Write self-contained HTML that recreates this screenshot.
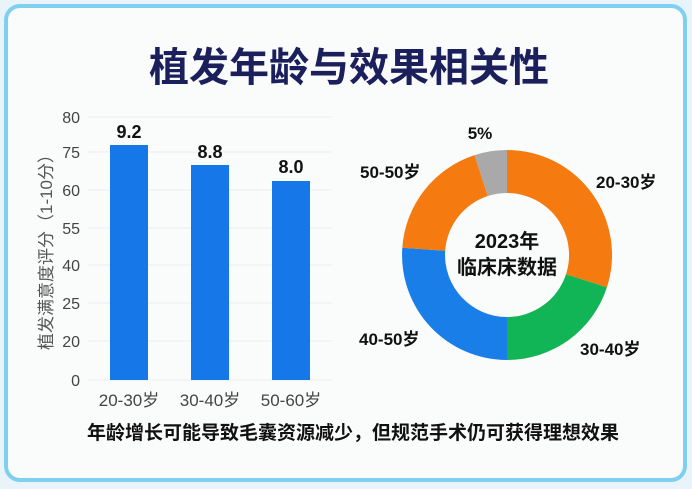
<!DOCTYPE html>
<html><head><meta charset="utf-8"><style>
html,body{margin:0;padding:0;width:692px;height:489px;overflow:hidden;background:#eef6fb;}
svg text{font-family:"Liberation Sans","Noto Sans CJK SC",sans-serif;}
</style></head><body>
<svg width="692" height="489" viewBox="0 0 692 489" xmlns="http://www.w3.org/2000/svg">
<rect x="0" y="0" width="692" height="489" fill="#e9f4fa"/>
<rect x="6" y="6" width="679" height="474" rx="14" fill="#fafbfb" stroke="#7fd0f0" stroke-width="4"/>
<text x="349" y="81" text-anchor="middle" font-size="40" font-weight="bold" fill="#1b1f5c">植发年龄与效果相关性</text>
<g stroke="#eceef0" stroke-width="1">
<line x1="88" y1="117" x2="332" y2="117"/><line x1="88" y1="152" x2="332" y2="152"/>
<line x1="88" y1="190" x2="332" y2="190"/><line x1="88" y1="228" x2="332" y2="228"/>
<line x1="88" y1="265" x2="332" y2="265"/><line x1="88" y1="303" x2="332" y2="303"/>
<line x1="88" y1="341" x2="332" y2="341"/><line x1="88" y1="380" x2="332" y2="380"/>
</g>
<g font-size="16" fill="#444" text-anchor="end">
<text x="80" y="123">80</text><text x="80" y="158">75</text><text x="80" y="196">60</text>
<text x="80" y="234">55</text><text x="80" y="271">40</text><text x="80" y="309">25</text>
<text x="80" y="347">20</text><text x="80" y="386">0</text>
</g>
<text transform="translate(52,248) rotate(-90)" text-anchor="middle" font-size="17" fill="#555">植发满意度评分（1-10分）</text>
<rect x="110" y="145" width="38" height="235" fill="#1677e8"/>
<rect x="191" y="165" width="38" height="215" fill="#1677e8"/>
<rect x="272" y="181" width="38" height="199" fill="#1677e8"/>
<g font-size="18" font-weight="bold" fill="#111" text-anchor="middle">
<text x="129" y="138">9.2</text><text x="210" y="158">8.8</text><text x="291" y="173">8.0</text>
</g>
<g font-size="17" fill="#444" text-anchor="middle">
<text x="129" y="406">20-30岁</text><text x="210" y="406">30-40岁</text><text x="291" y="406">50-60岁</text>
</g>
<path d="M507,150 A105,105 0 0 1 606.9,287.4 L566,274.2 A62,62 0 0 0 507,193 Z" fill="#f57a0f"/>
<path d="M606.9,287.4 A105,105 0 0 1 507,360 L507,317 A62,62 0 0 0 566,274.2 Z" fill="#12b556"/>
<path d="M507,360 A105,105 0 0 1 402.3,247.7 L445.2,250.7 A62,62 0 0 0 507,317 Z" fill="#1a7ee8"/>
<path d="M402.3,247.7 A105,105 0 0 1 474.6,155.1 L487.8,196 A62,62 0 0 0 445.2,250.7 Z" fill="#f57a0f"/>
<path d="M474.6,155.1 A105,105 0 0 1 507,150 L507,193 A62,62 0 0 0 487.8,196 Z" fill="#a9a9a9"/>
<g font-size="17" font-weight="bold" fill="#111">
<text x="507" y="248" text-anchor="middle" font-size="20">2023年</text>
<text x="507" y="274" text-anchor="middle" font-size="20">临床床数据</text>
<text x="480" y="139" text-anchor="middle">5%</text>
<text x="360" y="178">50-50岁</text>
<text x="596" y="188">20-30岁</text>
<text x="359" y="345">40-50岁</text>
<text x="580" y="355">30-40岁</text>
</g>
<text x="353" y="439" text-anchor="middle" font-size="19" font-weight="bold" fill="#111">年龄增长可能导致毛囊资源减少，但规范手术仍可获得理想效果</text>
</svg>
</body></html>
